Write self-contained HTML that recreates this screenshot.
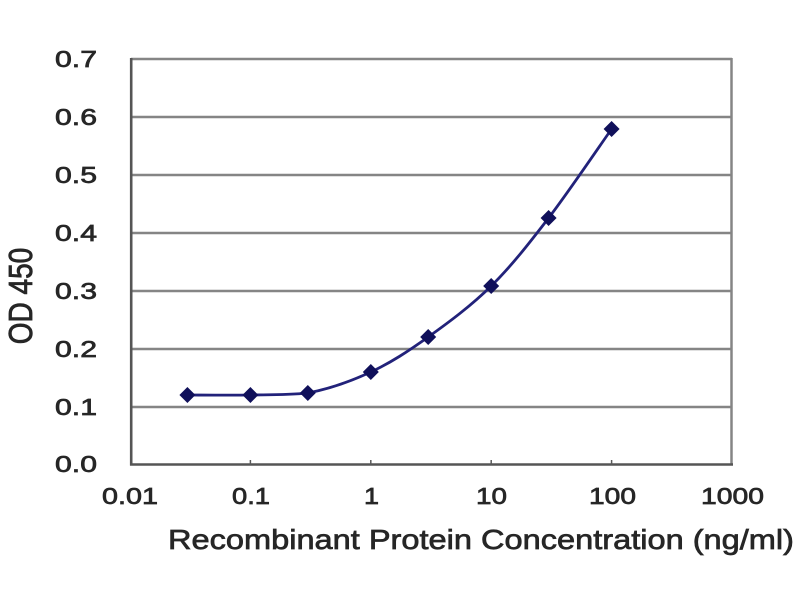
<!DOCTYPE html>
<html>
<head>
<meta charset="utf-8">
<style>
html,body{margin:0;padding:0;background:#fff;}
svg{display:block;}
text{font-family:"Liberation Sans",Arial,sans-serif;fill:#262626;stroke:#262626;stroke-width:0.7;}
</style>
</head>
<body>
<svg width="800" height="600" viewBox="0 0 800 600" xmlns="http://www.w3.org/2000/svg">
<rect width="800" height="600" fill="#fff"/>
<!-- gridlines -->
<g stroke="#858585" stroke-width="2.5">
<line x1="131" y1="59" x2="732" y2="59"/>
<line x1="131" y1="117" x2="732" y2="117"/>
<line x1="131" y1="175" x2="732" y2="175"/>
<line x1="131" y1="233" x2="732" y2="233"/>
<line x1="131" y1="291" x2="732" y2="291"/>
<line x1="131" y1="349" x2="732" y2="349"/>
<line x1="131" y1="407" x2="732" y2="407"/>
<line x1="731.5" y1="58" x2="731.5" y2="465"/>
</g>
<!-- axes -->
<g stroke="#555" stroke-width="2.6">
<line x1="131.2" y1="58" x2="131.2" y2="465.5"/>
<line x1="130" y1="464.5" x2="733" y2="464.5"/>
</g>
<g stroke="#5a5a5a" stroke-width="1.5">
<line x1="250.4" y1="460" x2="250.4" y2="465"/>
<line x1="370.8" y1="460" x2="370.8" y2="465"/>
<line x1="491.2" y1="460" x2="491.2" y2="465"/>
<line x1="611.6" y1="460" x2="611.6" y2="465"/>
</g>
<!-- y tick labels -->
<g font-size="23" text-anchor="end">
<text x="97" y="67" textLength="42" lengthAdjust="spacingAndGlyphs">0.7</text>
<text x="97" y="125" textLength="42" lengthAdjust="spacingAndGlyphs">0.6</text>
<text x="97" y="183" textLength="42" lengthAdjust="spacingAndGlyphs">0.5</text>
<text x="97" y="241" textLength="42" lengthAdjust="spacingAndGlyphs">0.4</text>
<text x="97" y="299" textLength="42" lengthAdjust="spacingAndGlyphs">0.3</text>
<text x="97" y="357" textLength="42" lengthAdjust="spacingAndGlyphs">0.2</text>
<text x="97" y="415" textLength="42" lengthAdjust="spacingAndGlyphs">0.1</text>
<text x="97" y="472" textLength="42" lengthAdjust="spacingAndGlyphs">0.0</text>
</g>
<!-- x tick labels -->
<g font-size="23">
<text x="102" y="504" textLength="56" lengthAdjust="spacingAndGlyphs">0.01</text>
<text x="232" y="504" textLength="38" lengthAdjust="spacingAndGlyphs">0.1</text>
<text x="364" y="504" textLength="15" lengthAdjust="spacingAndGlyphs">1</text>
<text x="476" y="504" textLength="31" lengthAdjust="spacingAndGlyphs">10</text>
<text x="589" y="504" textLength="47" lengthAdjust="spacingAndGlyphs">100</text>
<text x="701" y="504" textLength="63" lengthAdjust="spacingAndGlyphs">1000</text>
</g>
<!-- axis titles -->
<text x="168" y="549" font-size="28" textLength="626" lengthAdjust="spacingAndGlyphs">Recombinant Protein Concentration (ng/ml)</text>
<text transform="translate(32,296) scale(1.2,1) rotate(-90)" x="0" y="0" font-size="28" text-anchor="middle">OD 450</text>
<!-- curve -->
<path d="M187.4,395 C197.9,395 230.33,395.33 250.4,395 C270.47,394.67 287.73,395 307.8,393 C327.87,389.17 350.73,381.33 370.8,372 C390.87,362.67 408.13,351.33 428.2,337 C448.27,322.67 471.13,305.83 491.2,286 C511.27,266.17 528.53,244.17 548.6,218 C568.67,191.83 601.1,143.83 611.6,129" fill="none" stroke="#22227a" stroke-width="2.8"/>
<!-- markers -->
<g fill="#10105a">
<polygon points="187.4,387 195.4,395 187.4,403 179.4,395"/>
<polygon points="250.4,387 258.4,395 250.4,403 242.4,395"/>
<polygon points="307.8,385 315.8,393 307.8,401 299.8,393"/>
<polygon points="370.8,364 378.8,372 370.8,380 362.8,372"/>
<polygon points="428.2,329 436.2,337 428.2,345 420.2,337"/>
<polygon points="491.2,278 499.2,286 491.2,294 483.2,286"/>
<polygon points="548.6,210 556.6,218 548.6,226 540.6,218"/>
<polygon points="611.6,121 619.6,129 611.6,137 603.6,129"/>
</g>
</svg>
</body>
</html>
